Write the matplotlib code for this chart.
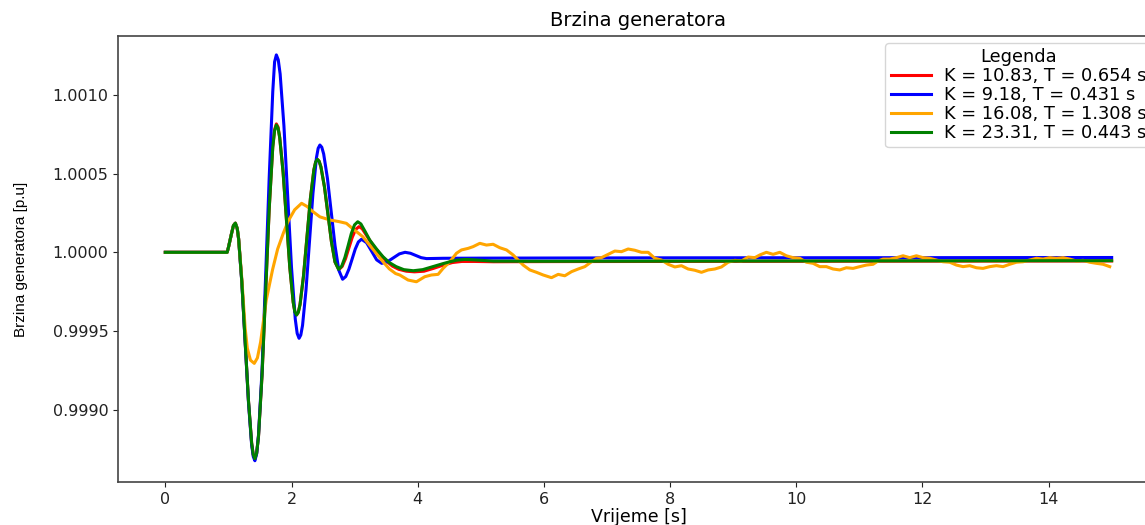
import matplotlib
matplotlib.use("Agg")
import matplotlib.pyplot as plt
from matplotlib.ticker import MultipleLocator, FormatStrFormatter

# ---------------- data ----------------
labels = ["K = 10.83, T = 0.654 s", "K = 9.18, T = 0.431 s",
          "K = 16.08, T = 1.308 s", "K = 23.31, T = 0.443 s"]
colors = ["red", "blue", "orange", "green"]

t_green = [0, 0.98, 1.0, 1.05, 1.08, 1.11, 1.14, 1.162, 1.213, 1.265, 1.317,
           1.368, 1.394, 1.42, 1.448, 1.477, 1.533, 1.59, 1.647, 1.703, 1.732,
           1.76, 1.787, 1.813, 1.867, 1.92, 1.973, 2.027, 2.053, 2.08, 2.1075,
           2.135, 2.19, 2.245, 2.30, 2.355, 2.3825, 2.41, 2.438, 2.466, 2.522,
           2.578, 2.633, 2.689, 2.745, 2.796, 2.847, 2.898, 2.948, 2.999, 3.05,
           3.10, 3.17, 3.24, 3.35, 3.45, 3.55, 3.66, 3.78, 3.93, 4.08, 4.24,
           4.40, 4.51, 4.62, 4.75, 4.90, 5.2, 6.0, 8.0, 10.0, 12.0, 15.0]
v_green = [1.0, 1.0, 1.00003, 1.00012, 1.00017, 1.000185, 1.000151, 1.000085,
           0.999811, 0.999438, 0.999064, 0.998790, 0.998715, 0.998690, 0.998726,
           0.998832, 0.999220, 0.999749, 1.000279, 1.000666, 1.000772, 1.000808,
           1.000788, 1.000727, 1.000507, 1.000205, 0.999904, 0.999683, 0.999622,
           0.999602, 0.999619, 0.999668, 0.999849, 1.000096, 1.000343, 1.000524,
           1.000573, 1.000590, 1.000578, 1.000543, 1.000416, 1.000241, 1.000067,
           0.999939, 0.999892, 0.999912, 0.999968, 1.000043, 1.000119, 1.000174,
           1.000194, 1.000180, 1.000130, 1.000078, 1.000020, 0.999972, 0.999935,
           0.999909, 0.999890, 0.999883, 0.999890, 0.999909, 0.999928, 0.999940,
           0.999950, 0.999955, 0.999952, 0.999944, 0.999943, 0.999944, 0.999945,
           0.999946, 0.999947]

t_red = [0, 0.98, 1.0, 1.05, 1.08, 1.11, 1.14, 1.162, 1.213, 1.265, 1.317,
         1.368, 1.394, 1.42, 1.448, 1.477, 1.533, 1.59, 1.647, 1.703, 1.732,
         1.76, 1.787, 1.813, 1.867, 1.92, 1.973, 2.027, 2.053, 2.08, 2.1075,
         2.135, 2.19, 2.245, 2.30, 2.355, 2.3825, 2.41, 2.438, 2.466, 2.522,
         2.578, 2.633, 2.689, 2.75, 2.803, 2.857, 2.91, 2.963, 3.017, 3.07,
         3.12, 3.2, 3.3, 3.4, 3.5, 3.6, 3.7, 3.82, 3.95, 4.1, 4.25, 4.4, 4.55,
         4.7, 4.9, 5.2, 6.0, 8.0, 10.0, 12.0, 15.0]
v_red = [1.0, 1.0, 1.00003, 1.00012, 1.00017, 1.000185, 1.000151, 1.000085,
         0.999811, 0.999438, 0.999064, 0.998790, 0.998715, 0.998690, 0.998726,
         0.998832, 0.999220, 0.999749, 1.000279, 1.000670, 1.000778, 1.000815,
         1.000795, 1.000730, 1.000507, 1.000205, 0.999904, 0.999683, 0.999622,
         0.999602, 0.999619, 0.999668, 0.999849, 1.000096, 1.000343, 1.000524,
         1.000573, 1.000590, 1.000578, 1.000543, 1.000416, 1.000241, 1.000067,
         0.999939, 0.999890, 0.999910, 0.999960, 1.000028, 1.000095, 1.000145,
         1.000163, 1.000150, 1.000100, 1.000040, 0.999990, 0.999945, 0.999912,
         0.999892, 0.999880, 0.999876, 0.999880, 0.999898, 0.999918, 0.999935,
         0.999942, 0.999942, 0.999940, 0.999941, 0.999942, 0.999943, 0.999944,
         0.999945]

t_blue = [0, 0.98, 1.0, 1.05, 1.08, 1.11, 1.14, 1.162, 1.213, 1.265, 1.317,
          1.368, 1.394, 1.42, 1.448, 1.477, 1.533, 1.59, 1.647, 1.703, 1.732,
          1.76, 1.79, 1.82, 1.88, 1.94, 2.00, 2.06, 2.09, 2.12, 2.1475, 2.175,
          2.23, 2.285, 2.34, 2.395, 2.4225, 2.45, 2.48, 2.51, 2.57, 2.63, 2.69,
          2.75, 2.81, 2.86, 2.91, 2.96, 3.01, 3.06, 3.11, 3.19, 3.27, 3.35,
          3.43, 3.52, 3.615, 3.71, 3.80, 3.885, 3.97, 4.055, 4.14, 4.4, 5.0,
          8.0, 12.0, 15.0]
v_blue = [1.0, 1.0, 1.00003, 1.00012, 1.00017, 1.000185, 1.000151, 1.000084,
          0.999808, 0.999431, 0.999054, 0.998778, 0.998703, 0.998677, 0.998721,
          0.998840, 0.999250, 0.999850, 1.000480, 1.001020, 1.001209, 1.001253,
          1.001222, 1.001132, 1.000803, 1.000354, 0.999904, 0.999575, 0.999485,
          0.999454, 0.999475, 0.999536, 0.999761, 1.000068, 1.000374, 1.000599,
          1.000660, 1.000681, 1.000667, 1.000624, 1.000468, 1.000255, 1.000042,
          0.999886, 0.999829, 0.999846, 0.999893, 0.999956, 1.000020, 1.000066,
          1.000083, 1.000061, 1.000007, 0.999952, 0.999930, 0.999940, 0.999965,
          0.999990, 1.000000, 0.999994, 0.999980, 0.999966, 0.999960, 0.999962,
          0.999963, 0.999965, 0.999966, 0.999967]

orange_pts = [
    (0, 1.0), (0.98, 1.0), (1.0, 1.00003), (1.05, 1.00012), (1.08, 1.00017),
    (1.11, 1.000185), (1.14, 1.000151), (1.162, 1.000085), (1.213, 0.999830),
    (1.265, 0.999520), (1.30, 0.999390), (1.35, 0.999315), (1.41, 0.999295),
    (1.46, 0.999330), (1.51, 0.999430), (1.60, 0.999697), (1.70, 0.999890),
    (1.78, 1.000020), (1.87, 1.000121), (1.95, 1.000200), (2.05, 1.000270),
    (2.16, 1.000311), (2.25, 1.000290), (2.34, 1.000258), (2.45, 1.000225),
    (2.61, 1.000205), (2.75, 1.000195), (2.87, 1.000184), (2.97, 1.000150),
    (3.05, 1.000125), (3.13, 1.000099), (3.25, 1.000040), (3.35, 0.999990),
    (3.45, 0.999940), (3.55, 0.999895), (3.65, 0.999865), (3.716, 0.999856),
    (3.848, 0.999824), (3.980, 0.999813), (4.112, 0.999845), (4.218, 0.999856),
    (4.324, 0.999860), (4.403, 0.999898), (4.509, 0.999940), (4.615, 0.999994),
    (4.694, 1.000015), (4.800, 1.000025), (4.879, 1.000036), (4.985, 1.000057),
    (5.090, 1.000046), (5.196, 1.000051), (5.302, 1.000029), (5.408, 1.000015),
    (5.513, 0.999983), (5.593, 0.999951), (5.672, 0.999919), (5.778, 0.999888),
    (5.883, 0.999873), (5.989, 0.999856), (6.121, 0.999839), (6.227, 0.999860),
    (6.332, 0.999851), (6.438, 0.999877), (6.544, 0.999894), (6.649, 0.999909),
    (6.755, 0.999940), (6.834, 0.999962), (6.913, 0.999966), (7.019, 0.999987),
    (7.125, 1.000008), (7.230, 1.000004), (7.336, 1.000021), (7.442, 1.000013),
    (7.547, 1.000000), (7.653, 1.000000), (7.759, 0.999962), (7.864, 0.999951),
    (7.970, 0.999924), (8.076, 0.999907), (8.181, 0.999915), (8.287, 0.999894),
    (8.393, 0.999886), (8.498, 0.999873), (8.604, 0.999888), (8.710, 0.999894),
    (8.815, 0.999907), (8.921, 0.999937), (9.027, 0.999949), (9.132, 0.999945),
    (9.238, 0.999970), (9.344, 0.999966), (9.422, 0.999983), (9.527, 1.000000),
    (9.633, 0.999987), (9.739, 1.000000), (9.844, 0.999978), (9.950, 0.999966),
    (10.056, 0.999962), (10.161, 0.999937), (10.267, 0.999930), (10.373, 0.999909),
    (10.478, 0.999909), (10.584, 0.999894), (10.690, 0.999888), (10.795, 0.999902),
    (10.901, 0.999898), (11.007, 0.999909), (11.112, 0.999919), (11.218, 0.999924),
    (11.297, 0.999945), (11.376, 0.999957), (11.482, 0.999957), (11.588, 0.999966),
    (11.693, 0.999978), (11.799, 0.999966), (11.905, 0.999978), (12.010, 0.999966),
    (12.116, 0.999962), (12.222, 0.999951), (12.327, 0.999940), (12.433, 0.999937),
    (12.539, 0.999919), (12.644, 0.999909), (12.750, 0.999915), (12.856, 0.999902),
    (12.961, 0.999898), (13.067, 0.999909), (13.173, 0.999915), (13.278, 0.999909),
    (13.384, 0.999924), (13.490, 0.999937), (13.595, 0.999940), (13.701, 0.999951),
    (13.807, 0.999962), (13.913, 0.999957), (14.018, 0.999966), (14.124, 0.999962),
    (14.230, 0.999966), (14.335, 0.999957), (14.441, 0.999945), (14.547, 0.999949),
    (14.652, 0.999937), (14.758, 0.999930), (14.864, 0.999924), (14.969, 0.999909)]
t_orange = [p[0] for p in orange_pts]
v_orange = [p[1] for p in orange_pts]

title = "Brzina generatora"
xlabel = "Vrijeme [s]"
ylabel = "Brzina generatora [p.u]"
legend_title = "Legenda"

plt.rcParams["font.family"] = ["DejaVu Sans"]

# ---------------- figure ----------------
W, H = 1145, 525
fig = plt.figure(figsize=(W / 100, H / 100), dpi=100)
ax = fig.add_axes([118 / W, (H - 482) / H, 1041 / W, 446 / H])

series = [(t_red, v_red), (t_blue, v_blue), (t_orange, v_orange), (t_green, v_green)]
for (t, v), c, lab in zip(series, colors, labels):
    ax.plot(t, v, color=c, lw=2.2, label=lab)

ax.set_xlim(-0.75, 15.75)
ax.set_ylim(0.998542, 1.001373)
ax.xaxis.set_major_locator(MultipleLocator(2))
ax.yaxis.set_major_locator(MultipleLocator(0.0005))
ax.yaxis.set_major_formatter(FormatStrFormatter("%.4f"))
ax.tick_params(labelsize=11.5, colors="#222222")
for s in ax.spines.values():
    s.set_color("#444444")
    s.set_linewidth(1.2)

ax.set_title(title, fontsize=14, pad=7)
ax.set_xlabel(xlabel, fontsize=12.5, labelpad=1)
ax.set_ylabel(ylabel, fontsize=11, family=["Liberation Sans", "DejaVu Sans"])
ax.yaxis.set_label_coords(-0.0865, 0.5)

leg = ax.legend(title=legend_title, loc="upper right", fontsize=12.8,
                title_fontsize=12.8, labelspacing=0.05, handlelength=2.3,
                handletextpad=0.7, borderaxespad=0.4, borderpad=0.3)

fig.savefig("out.png", dpi=100)
